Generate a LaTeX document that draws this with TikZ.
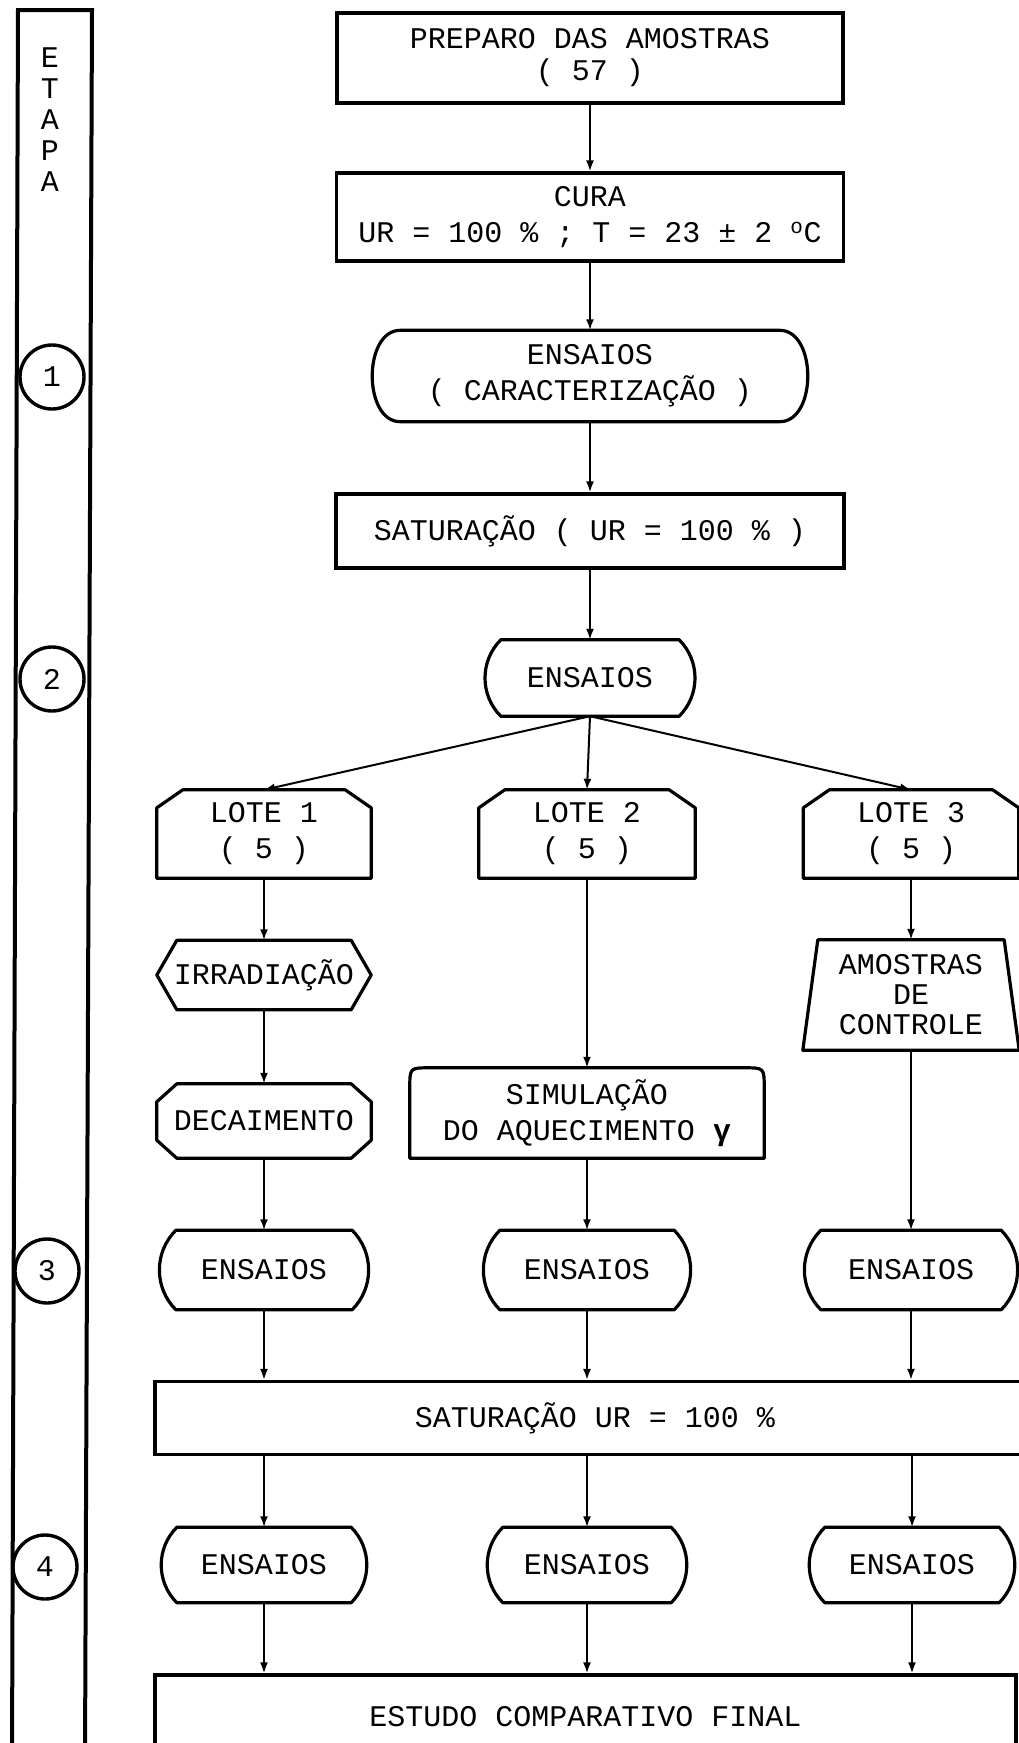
\documentclass[tikz,border=0pt]{standalone}
\usepackage{fontspec}
\setmainfont{Liberation Mono}
\usetikzlibrary{arrows.meta,calc}

\begin{document}
\begin{tikzpicture}[x=1pt, y=-1pt,
    every node/.style={font=\fontsize{30}{36}\selectfont, inner sep=0pt, align=center},
    blk/.style={draw, line width=3.2pt},
    sz/.style 2 args={minimum width=#1pt, minimum height=#2pt},
    outl/.style={line width=3.2pt, line join=round},
    stage/.style={draw, circle, line width=3.4pt, minimum size=64pt},
    flow/.style={line width=2pt, -{Latex[length=11pt,width=8pt]}}]
  \useasboundingbox (0,0) rectangle (1018,1743);

  \draw[line width=4pt] (12,1760) -- (18,10) -- (92,10) -- (85,1760);
  \node[font=\fontsize{30}{31}\selectfont] (etapa) at (50,120) {E\\T\\A\\P\\A};
  \node[stage] (c1) at (52,377) {1};
  \node[stage] (c2) at (52,679) {2};
  \node[stage] (c3) at (47,1271) {3};
  \node[stage] (c4) at (45,1567) {4};

  \node[blk, sz={506}{90}, font=\fontsize{30}{32}\selectfont] (prep) at (590,58)
    {PREPARO DAS AMOSTRAS\\( 57 )};
  \node[blk, sz={507}{88}] (cura) at (590,217)
    {CURA\\UR = 100 \% ; T = 23 ± 2 \textsuperscript{o}C};
  \node[sz={435}{91}] (carac) at (590,376) {ENSAIOS\\( CARACTERIZAÇÃO )};
  \node[blk, sz={508}{74}] (sat1) at (590,531) {SATURAÇÃO ( UR = 100 \% )};
  \node[sz={210}{76}] (ens) at (590,678) {ENSAIOS};

  \node[sz={214}{88}] (l1) at (264,834) {LOTE 1\\( 5 )};
  \node[sz={216}{88}] (l2) at (587,834) {LOTE 2\\( 5 )};
  \node[sz={215}{88}] (l3) at (911,834) {LOTE 3\\( 5 )};

  \node[sz={214}{69}] (irr) at (264,975) {IRRADIAÇÃO};
  \node[sz={214}{74}] (dec) at (264,1121) {DECAIMENTO};
  \node[sz={354}{90}] (sim) at (587,1113) {SIMULAÇÃO\\DO AQUECIMENTO {\bfseries γ}};
  \node[sz={216}{110}, font=\fontsize{30}{30}\selectfont] (amo) at (911,995)
    {AMOSTRAS\\DE\\CONTROLE};

  \node[sz={208}{79}] (e3a) at (264,1270) {ENSAIOS};
  \node[sz={206}{79}] (e3b) at (587,1270) {ENSAIOS};
  \node[sz={212}{79}] (e3c) at (911,1270) {ENSAIOS};
  \node[blk, sz={880}{73}] (sat2) at (595,1418) {SATURAÇÃO UR = 100 \%};
  \node[sz={206}{75}] (e4a) at (264,1565) {ENSAIOS};
  \node[sz={200}{75}] (e4b) at (587,1565) {ENSAIOS};
  \node[sz={206}{75}] (e4c) at (912,1565) {ENSAIOS};
  \node[blk, sz={861}{84}] (est) at (585.5,1717) {ESTUDO COMPARATIVO FINAL};

  % contornos especiais
  \draw[outl] ($(carac.north west)+(28,0)$) -- ($(carac.north east)+(-28,0)$)
    to[out=0,in=0,looseness=1.05] ($(carac.south east)+(-28,0)$)
    -- ($(carac.south west)+(28,0)$)
    to[out=180,in=180,looseness=1.05] ($(carac.north west)+(28,0)$) -- cycle;
  \foreach \n in {ens,e3a,e3b,e3c,e4a,e4b,e4c}
    \draw[outl] ($(\n.north west)+(16,0)$) -- ($(\n.north east)+(-16,0)$)
      to[bend left=45] ($(\n.south east)+(-16,0)$) -- ($(\n.south west)+(16,0)$)
      to[bend left=45] ($(\n.north west)+(16,0)$) -- cycle;
  \foreach \n in {l1,l2,l3}
    \draw[outl] (\n.south west) -- ($(\n.north west)+(0,18)$) -- ($(\n.north west)+(26,0)$)
      -- ($(\n.north east)+(-26,0)$) -- ($(\n.north east)+(0,18)$) -- (\n.south east) -- cycle;
  \draw[outl] (irr.west) -- ($(irr.north west)+(20,0)$) -- ($(irr.north east)+(-20,0)$)
    -- (irr.east) -- ($(irr.south east)+(-20,0)$) -- ($(irr.south west)+(20,0)$) -- cycle;
  \draw[outl] ($(dec.north west)+(20,0)$) -- ($(dec.north east)+(-20,0)$)
    -- ($(dec.north east)+(0,18)$) -- ($(dec.south east)+(0,-18)$)
    -- ($(dec.south east)+(-20,0)$) -- ($(dec.south west)+(20,0)$)
    -- ($(dec.south west)+(0,-18)$) -- ($(dec.north west)+(0,18)$) -- cycle;
  \draw[outl] (sim.south west) -- ($(sim.north west)+(0,20)$)
    .. controls (sim.north west) .. ($(sim.north west)+(20,0)$)
    -- ($(sim.north east)+(-20,0)$)
    .. controls (sim.north east) .. ($(sim.north east)+(0,20)$)
    -- (sim.south east) -- cycle;
  \draw[outl] ($(amo.north west)+(15,0)$) -- ($(amo.north east)+(-15,0)$)
    -- (amo.south east) -- (amo.south west) -- cycle;

  \draw[flow] (prep) -- (cura);
  \draw[flow] (cura) -- (carac);
  \draw[flow] (carac) -- (sat1);
  \draw[flow] (sat1) -- (ens);
  \draw[flow] (ens.south) -- (l1.north);
  \draw[flow] (ens.south) -- (l2.north);
  \draw[flow] (ens.south) -- (l3.north);
  \draw[flow] (l1) -- (irr);
  \draw[flow] (irr) -- (dec);
  \draw[flow] (dec) -- (e3a);
  \draw[flow] (l2) -- (sim);
  \draw[flow] (sim) -- (e3b);
  \draw[flow] (l3) -- (amo);
  \draw[flow] (amo) -- (e3c);
  \foreach \n in {e3a,e3b,e3c}
    \draw[flow] (\n) -- (\n |- sat2.north);
  \foreach \n in {e4a,e4b,e4c} {
    \draw[flow] (sat2.south -| \n) -- (\n);
    \draw[flow] (\n) -- (\n |- est.north);
  }
\end{tikzpicture}
\end{document}
